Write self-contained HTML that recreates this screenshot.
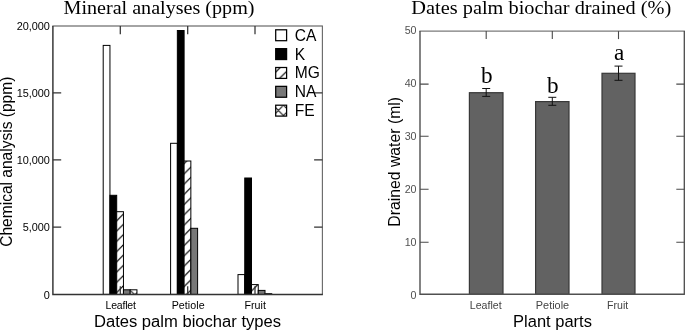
<!DOCTYPE html><html><head><meta charset="utf-8"><title>Charts</title><style>
html,body{margin:0;padding:0;background:#fff;}svg{display:block;}
text{font-family:"Liberation Sans",Arial,sans-serif;fill:#000;}
.ser{font-family:"Liberation Serif","Times New Roman",serif;}
</style></head><body>
<svg style="filter:grayscale(1)" width="685" height="330" viewBox="0 0 685 330">
<defs>
<pattern id="hat" patternUnits="userSpaceOnUse" x="0" y="0" width="10.25" height="10.25"><rect width="10.25" height="10.25" fill="#fff"/><path d="M-2.00,1.25 L1.25,-2.00 M-2.00,11.50 L11.50,-2.00 M-2.00,21.75 L21.75,-2.00 M-2.00,32.00 L32.00,-2.00 " stroke="#000" stroke-width="1.1" fill="none"/></pattern>
<pattern id="xhat" patternUnits="userSpaceOnUse" x="0" y="0" width="10.25" height="10.25"><rect width="10.25" height="10.25" fill="#fff"/><path d="M-2.00,1.25 L1.25,-2.00 M-2.00,11.50 L11.50,-2.00 M-2.00,21.75 L21.75,-2.00 M-2.00,32.00 L32.00,-2.00  M-2.00,-16.15 L12.25,-1.90 M-2.00,-5.90 L12.25,8.35 M-2.00,4.35 L12.25,18.60 M-2.00,14.60 L12.25,28.85 " stroke="#000" stroke-width="1.0" fill="none"/></pattern>
</defs>
<rect width="685" height="330" fill="#fff"/>
<text class="ser" transform="translate(159,13.7) scale(1,1.04)" font-size="18" text-anchor="middle" textLength="191" lengthAdjust="spacingAndGlyphs">Mineral analyses (ppm)</text>
<rect x="103.20" y="45.40" width="6.75" height="249.00" fill="#fff" stroke="#000" stroke-width="1"/>
<rect x="109.95" y="195.30" width="6.75" height="99.10" fill="#000" stroke="#000" stroke-width="1"/>
<rect x="116.70" y="211.70" width="6.75" height="82.70" fill="url(#hat)" stroke="#000" stroke-width="1"/>
<rect x="123.45" y="289.80" width="6.75" height="4.60" fill="#777" stroke="#000" stroke-width="1"/>
<rect x="130.20" y="289.80" width="6.75" height="4.60" fill="url(#xhat)" stroke="#000" stroke-width="1"/>
<rect x="170.60" y="143.30" width="6.75" height="151.10" fill="#fff" stroke="#000" stroke-width="1"/>
<rect x="177.35" y="30.50" width="6.75" height="263.90" fill="#000" stroke="#000" stroke-width="1"/>
<rect x="184.10" y="161.00" width="6.75" height="133.40" fill="url(#hat)" stroke="#000" stroke-width="1"/>
<rect x="190.85" y="228.30" width="6.75" height="66.10" fill="#777" stroke="#000" stroke-width="1"/>
<rect x="238.00" y="274.60" width="6.75" height="19.80" fill="#fff" stroke="#000" stroke-width="1"/>
<rect x="244.75" y="178.00" width="6.75" height="116.40" fill="#000" stroke="#000" stroke-width="1"/>
<rect x="251.50" y="284.60" width="6.75" height="9.80" fill="url(#hat)" stroke="#000" stroke-width="1"/>
<rect x="258.25" y="290.40" width="6.75" height="4.00" fill="#777" stroke="#000" stroke-width="1"/>
<rect x="265.00" y="293.70" width="6.75" height="0.70" fill="url(#xhat)" stroke="#000" stroke-width="1"/>
<path d="M52.30,26.00 H322.90" stroke="#4a4a4a" stroke-width="1.15" fill="none"/>
<path d="M322.40,26.00 V294.40" stroke="#6a6a6a" stroke-width="1.15" fill="none"/>
<path d="M52.90,26.00 V294.40 H322.90" stroke="#333" stroke-width="1.45" fill="none" stroke-linejoin="miter"/>
<path d="M52.90,227.00 h8.3 M322.40,227.00 h-8.3" stroke="#333" stroke-width="1.25"/>
<path d="M52.90,159.80 h8.3 M322.40,159.80 h-8.3" stroke="#333" stroke-width="1.25"/>
<path d="M52.90,92.90 h8.3 M322.40,92.90 h-8.3" stroke="#333" stroke-width="1.25"/>
<path d="M120.30,26.00 v8.2 M120.30,294.40 v-8.2" stroke="#333" stroke-width="1.25"/>
<path d="M187.70,26.00 v8.2 M187.70,294.40 v-8.2" stroke="#333" stroke-width="1.25"/>
<path d="M255.00,26.00 v8.2 M255.00,294.40 v-8.2" stroke="#333" stroke-width="1.25"/>
<text transform="translate(49.60,298.65) scale(0.9434,1)" font-size="11.55" text-anchor="end" style="fill:#000" letter-spacing="-0.10">0</text>
<text transform="translate(49.60,231.25) scale(0.9434,1)" font-size="11.55" text-anchor="end" style="fill:#000" letter-spacing="-0.10">5,000</text>
<text transform="translate(49.60,164.05) scale(0.9434,1)" font-size="11.55" text-anchor="end" style="fill:#000" letter-spacing="-0.10">10,000</text>
<text transform="translate(49.60,97.15) scale(0.9434,1)" font-size="11.55" text-anchor="end" style="fill:#000" letter-spacing="-0.10">15,000</text>
<text transform="translate(49.60,30.25) scale(0.9434,1)" font-size="11.55" text-anchor="end" style="fill:#000" letter-spacing="-0.10">20,000</text>
<text transform="translate(120.60,308.70) scale(0.9524,1)" font-size="11.03" text-anchor="middle" style="fill:#000" letter-spacing="-0.20">Leaflet</text>
<text transform="translate(188.20,308.70) scale(0.9524,1)" font-size="11.23" text-anchor="middle" style="fill:#000" letter-spacing="0.05">Petiole</text>
<text transform="translate(255.20,308.70) scale(0.9524,1)" font-size="11.23" text-anchor="middle" style="fill:#000" letter-spacing="0.05">Fruit</text>
<text transform="translate(187.50,327.00) scale(0.9615,1)" font-size="17.26" text-anchor="middle" style="fill:#000">Dates palm biochar types</text>
<text transform="translate(11.80,161.70) rotate(-90) scale(0.9615,1)" font-size="16.17" text-anchor="middle" style="fill:#000">Chemical analysis (ppm)</text>
<rect x="275.7" y="29.80" width="10.9" height="10.9" fill="#fff" stroke="#000" stroke-width="1.25"/>
<text transform="translate(294.70,40.70) scale(0.9302,1)" font-size="16.79" text-anchor="start" style="fill:#000">CA</text>
<rect x="275.7" y="48.65" width="10.9" height="10.9" fill="#000" stroke="#000" stroke-width="1.25"/>
<text transform="translate(294.70,59.55) scale(0.9302,1)" font-size="16.79" text-anchor="start" style="fill:#000">K</text>
<rect x="275.7" y="67.50" width="10.9" height="10.9" fill="url(#hat)" stroke="#000" stroke-width="1.25"/>
<text transform="translate(294.70,78.40) scale(0.9302,1)" font-size="16.79" text-anchor="start" style="fill:#000">MG</text>
<rect x="275.7" y="86.35" width="10.9" height="10.9" fill="#777" stroke="#000" stroke-width="1.25"/>
<text transform="translate(294.70,97.25) scale(0.9302,1)" font-size="16.79" text-anchor="start" style="fill:#000">NA</text>
<rect x="275.7" y="105.20" width="10.9" height="10.9" fill="url(#xhat)" stroke="#000" stroke-width="1.25"/>
<text transform="translate(294.70,116.10) scale(0.9302,1)" font-size="16.79" text-anchor="start" style="fill:#000">FE</text>
<text class="ser" transform="translate(541.3,13.9) scale(1,1.04)" font-size="18" text-anchor="middle" textLength="260" lengthAdjust="spacingAndGlyphs">Dates palm biochar drained (%)</text>
<rect x="469.40" y="92.70" width="33.60" height="201.60" fill="#626262" stroke="#383838" stroke-width="1.2"/>
<path d="M486.20,88.50 V96.40 M482.20,88.50 h8 M482.20,96.40 h8" stroke="#111" stroke-width="1" fill="none"/>
<text class="ser" x="486.80" y="82.80" font-size="23.2" text-anchor="middle">b</text>
<rect x="535.60" y="101.60" width="33.40" height="192.70" fill="#626262" stroke="#383838" stroke-width="1.2"/>
<path d="M552.30,97.30 V105.30 M548.30,97.30 h8 M548.30,105.30 h8" stroke="#111" stroke-width="1" fill="none"/>
<text class="ser" x="552.90" y="92.90" font-size="23.2" text-anchor="middle">b</text>
<rect x="602.00" y="73.30" width="33.00" height="221.00" fill="#626262" stroke="#383838" stroke-width="1.2"/>
<path d="M618.50,66.10 V80.30 M614.50,66.10 h8 M614.50,80.30 h8" stroke="#111" stroke-width="1" fill="none"/>
<text class="ser" x="619.10" y="59.90" font-size="23.2" text-anchor="middle">a</text>
<path d="M419.40,31.10 H684.90" stroke="#7a7a7a" stroke-width="1.2" fill="none"/>
<path d="M684.30,31.10 V294.30" stroke="#4a4a4a" stroke-width="1.3" fill="none"/>
<path d="M420.00,31.10 V294.30 H684.90" stroke="#505050" stroke-width="1.4" fill="none"/>
<path d="M420.00,242.30 h8.6 M684.30,242.30 h-8" stroke="#4a4a4a" stroke-width="1.1"/>
<path d="M420.00,189.30 h8.6 M684.30,189.30 h-8" stroke="#4a4a4a" stroke-width="1.1"/>
<path d="M420.00,136.30 h8.6 M684.30,136.30 h-8" stroke="#4a4a4a" stroke-width="1.1"/>
<path d="M420.00,84.10 h8.6 M684.30,84.10 h-8" stroke="#4a4a4a" stroke-width="1.1"/>
<path d="M486.20,31.10 v8" stroke="#4a4a4a" stroke-width="1.1"/>
<path d="M552.30,31.10 v8" stroke="#4a4a4a" stroke-width="1.1"/>
<path d="M618.50,31.10 v8" stroke="#4a4a4a" stroke-width="1.1"/>
<text transform="translate(416.30,298.55) scale(0.9259,1)" font-size="11.56" text-anchor="end" style="fill:#505050" letter-spacing="-0.20">0</text>
<text transform="translate(416.30,245.75) scale(0.9259,1)" font-size="11.56" text-anchor="end" style="fill:#505050" letter-spacing="-0.20">10</text>
<text transform="translate(416.30,192.75) scale(0.9259,1)" font-size="11.56" text-anchor="end" style="fill:#505050" letter-spacing="-0.20">20</text>
<text transform="translate(416.30,140.45) scale(0.9259,1)" font-size="11.56" text-anchor="end" style="fill:#505050" letter-spacing="-0.20">30</text>
<text transform="translate(416.30,87.25) scale(0.9259,1)" font-size="11.56" text-anchor="end" style="fill:#505050" letter-spacing="-0.20">40</text>
<text transform="translate(416.30,34.45) scale(0.9259,1)" font-size="11.56" text-anchor="end" style="fill:#505050" letter-spacing="-0.20">50</text>
<text transform="translate(485.70,308.50) scale(0.9524,1)" font-size="11.13" text-anchor="middle" style="fill:#444">Leaflet</text>
<text transform="translate(552.50,308.50) scale(0.9524,1)" font-size="11.45" text-anchor="middle" style="fill:#444">Petiole</text>
<text transform="translate(617.60,308.50) scale(0.9524,1)" font-size="11.13" text-anchor="middle" style="fill:#444">Fruit</text>
<text transform="translate(552.50,326.60) scale(0.9615,1)" font-size="17.16" text-anchor="middle" style="fill:#000">Plant parts</text>
<text transform="translate(400.30,161.80) rotate(-90) scale(1.0000,1)" font-size="15.77" text-anchor="middle" style="fill:#000">Drained water (ml)</text>
</svg></body></html>
